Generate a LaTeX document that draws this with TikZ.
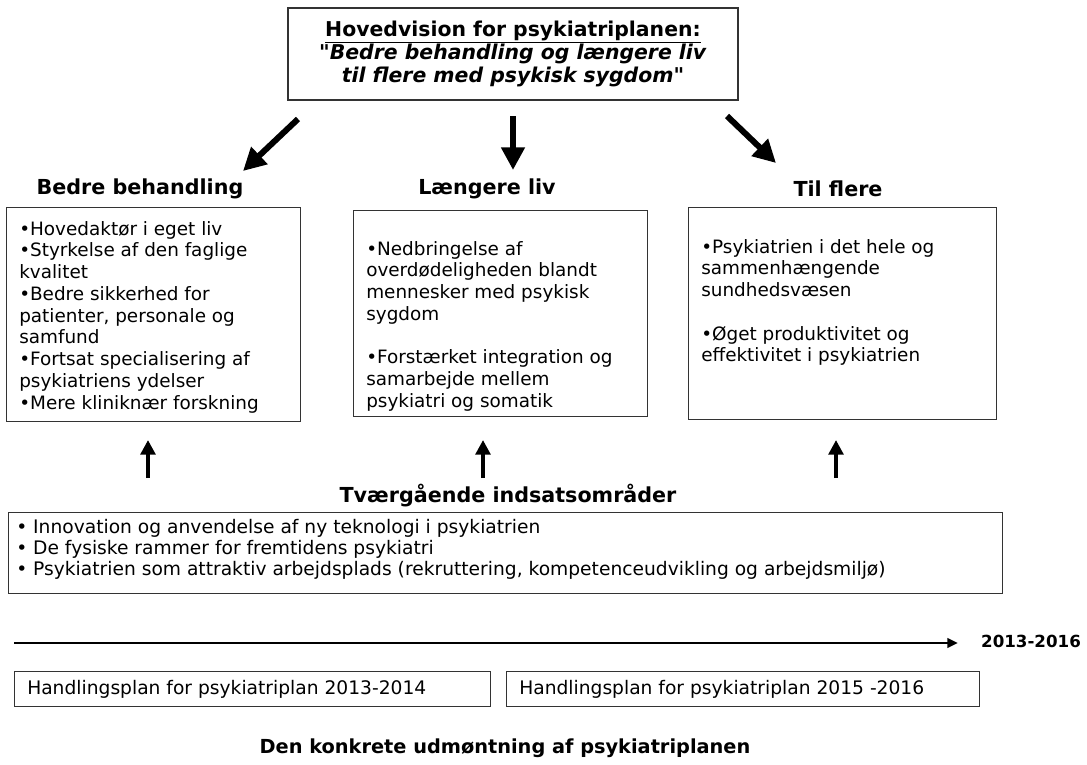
\documentclass[tikz,border=0pt]{standalone}
\usepackage{fontspec}
\setmainfont{DejaVu Sans}[Ligatures=TeXOff]
\usetikzlibrary{arrows.meta}
\tikzset{
  framebox/.style={draw=black!80, line width=0.9pt, inner sep=0pt, anchor=north west},
  bodytext/.style={inner sep=0pt, anchor=north west, align=left, font=\fontsize{13.8}{16.3}\selectfont},
  header/.style={inner sep=0pt, font=\fontsize{15.5}{18}\selectfont\bfseries},
  bigarrow/.style={line width=4.5pt, -{Triangle[length=17pt,width=17pt]}},
  uparrow/.style={line width=3.5pt, -{Triangle[length=11pt,width=11pt]}},
  timearrow/.style={line width=2.2pt, -{Triangle[length=8pt,width=7pt]}}
}
\begin{document}
\begin{tikzpicture}[x=0.75pt,y=-0.75pt]
\useasboundingbox (0,0) rectangle (1087,764);

% top vision box
\node[draw=black!80, line width=0.9pt, minimum width=337.5pt, minimum height=69pt, align=center,
      font=\fontsize{15.3}{17.4}\selectfont\bfseries] (top) at (513,54)
  {\underline{Hovedvision for psykiatriplanen:}\\\textit{"Bedre behandling og længere liv}\\\textit{til flere med psykisk sygdom"}};

% arrows from top
\coordinate (a1s) at (298,119);
\coordinate (a1e) at (243,171);
\coordinate (a2s) at (513,116);
\coordinate (a2e) at (513,170);
\coordinate (a3s) at (727,116);
\coordinate (a3e) at (776,163);
\draw[bigarrow] (a1s) -- (a1e);
\draw[bigarrow] (a2s) -- (a2e);
\draw[bigarrow] (a3s) -- (a3e);

% headers
\node[header] (h1) at (140,189) {Bedre behandling};
\node[header] (h2) at (487,189) {Længere liv};
\node[header] (h3) at (838,189) {Til flere};

% three boxes
\node[framebox, minimum width=220.5pt, minimum height=160.5pt] (b1) at (6,207) {};
\node[framebox, minimum width=220.5pt, minimum height=154.5pt] (b2) at (353,210) {};
\node[framebox, minimum width=231pt, minimum height=159pt] (b3) at (688,207) {};

\node[bodytext] (t1) at (19,221) {•Hovedaktør i eget liv\\•Styrkelse af den faglige\\kvalitet\\•Bedre sikkerhed for\\patienter, personale og\\samfund\\•Fortsat specialisering af\\psykiatriens ydelser\\•Mere kliniknær forskning};
\node[bodytext] (t2) at (366,241) {•Nedbringelse af\\overdødeligheden blandt\\mennesker med psykisk\\sygdom\\[16.3pt]•Forstærket integration og\\samarbejde mellem\\psykiatri og somatik};
\node[bodytext] (t3) at (701,239) {•Psykiatrien i det hele og\\sammenhængende\\sundhedsvæsen\\[16.3pt]•Øget produktivitet og\\effektivitet i psykiatrien};

% up arrows
\coordinate (u1s) at (148,478);
\coordinate (u1e) at (148,440);
\coordinate (u2s) at (483,478);
\coordinate (u2e) at (483,440);
\coordinate (u3s) at (836,478);
\coordinate (u3e) at (836,440);
\draw[uparrow] (u1s) -- (u1e);
\draw[uparrow] (u2s) -- (u2e);
\draw[uparrow] (u3s) -- (u3e);

% cross-cutting
\node[header] (h4) at (508,496) {Tværgående indsatsområder};
\node[framebox, minimum width=745.5pt, minimum height=60.75pt] (tb) at (8,512) {};
\node[bodytext, font=\fontsize{14}{15.8}\selectfont] (tt) at (16,519) {• Innovation og anvendelse af ny teknologi i psykiatrien\\• De fysiske rammer for fremtidens psykiatri\\• Psykiatrien som attraktiv arbejdsplads (rekruttering, kompetenceudvikling og arbejdsmiljø)};

% timeline
\coordinate (ts) at (14,643);
\coordinate (te) at (958,643);
\draw[timearrow] (ts) -- (te);
\node[inner sep=0pt, font=\fontsize{12.5}{15}\selectfont\bfseries] (yr) at (1031,641) {2013-2016};

% action plans
\node[framebox, minimum width=357pt, minimum height=26.25pt] (ha) at (14,671) {};
\node[framebox, minimum width=354.75pt, minimum height=26.25pt] (hb) at (506,671) {};
\node[inner sep=0pt, anchor=west, font=\fontsize{14}{16}\selectfont] (hat) at (27,689) {Handlingsplan for psykiatriplan 2013-2014};
\node[inner sep=0pt, anchor=west, font=\fontsize{14}{16}\selectfont] (hbt) at (519,689) {Handlingsplan for psykiatriplan 2015 -2016};

% bottom title
\node[header, font=\fontsize{14.5}{17}\selectfont\bfseries] (bt) at (505,748) {Den konkrete udmøntning af psykiatriplanen};
\end{tikzpicture}
\end{document}
